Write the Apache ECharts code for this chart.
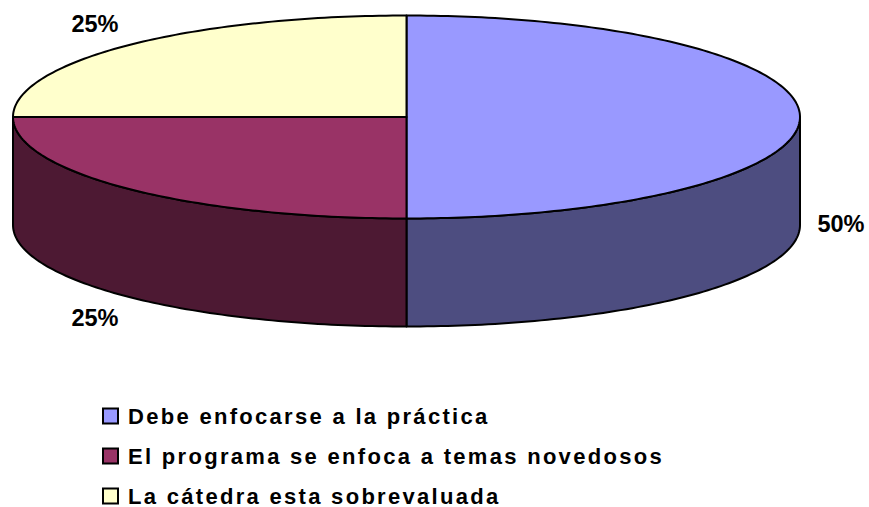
<!DOCTYPE html>
<html>
<head>
<meta charset="utf-8">
<style>
html,body{margin:0;padding:0;background:#fff}
#c{width:869px;height:507px}
</style>
<script src="https://cdn.jsdelivr.net/npm/echarts@6/dist/echarts.min.js"></script>
</head>
<body>
<div id="c"></div>
<script>
const categories = ['Debe enfocarse a la práctica', 'El programa se enfoca a temas novedosos', 'La cátedra esta sobrevaluada'];
const values = [50, 25, 25];
const topColors = ['#9999FF', '#993366', '#FFFFCC'];
const sideColors = ['#4D4D80', '#4D1933', '#80805F'];
const labelPositions = [[841, 224], [95, 318], [95, 24]];

const cx = 406.5, cy = 117, rx = 393.5, ry = 101.5, depth = 108;
const total = values.reduce((a, b) => a + b, 0);
const pt = (deg, dy) => [cx + rx * Math.cos(deg * Math.PI / 180), cy + dy + ry * Math.sin(deg * Math.PI / 180)];

function renderer(i) {
  return function () {
    const before = values.slice(0, i).reduce((a, b) => a + b, 0);
    const a0 = -90 + before / total * 360;
    const a1 = a0 + values[i] / total * 360;
    const children = [];
    const s0 = Math.max(a0, 0), s1 = Math.min(a1, 180);
    if (s1 > s0) {
      const pts = [];
      for (let a = s0; a <= s1; a += 1) pts.push(pt(a, 0));
      for (let a = s1; a >= s0; a -= 1) pts.push(pt(a, depth));
      children.push({ type: 'polygon', z2: 1, shape: { points: pts },
        style: { fill: sideColors[i], stroke: '#000', lineWidth: 2, lineJoin: 'round' } });
    }
    const top = [[cx, cy]];
    for (let a = a0; a <= a1; a += 1) top.push(pt(a, 0));
    children.push({ type: 'polygon', z2: 2, shape: { points: top },
      style: { fill: topColors[i], stroke: '#000', lineWidth: 2, lineJoin: 'round' } });
    children.push({ type: 'text', z2: 3, x: labelPositions[i][0], y: labelPositions[i][1],
      style: { text: Math.round(values[i] / total * 100) + '%', align: 'center', verticalAlign: 'middle',
        fill: '#000', font: 'bold 23.5px "Liberation Sans", Arial, sans-serif' } });
    return { type: 'group', children };
  };
}

const chart = echarts.init(document.getElementById('c'), null, { renderer: 'svg', width: 869, height: 507 });
chart.setOption({
  animation: false,
  backgroundColor: '#fff',
  legend: {
    orient: 'vertical', left: 102, top: 405, height: 120, itemGap: 18, itemWidth: 15, itemHeight: 15,
    icon: 'rect', selectedMode: false, padding: 0,
    itemStyle: { borderColor: '#000', borderWidth: 2 },
    textStyle: { color: '#000', fontWeight: 'bold', fontSize: 22, fontFamily: '"Liberation Sans", Arial, sans-serif', padding: [0, 0, 0, 5] },
    data: categories
  },
  series: categories.map((name, i) => ({
    type: 'custom', name, coordinateSystem: 'none', silent: true,
    itemStyle: { color: topColors[i] },
    renderItem: renderer(i),
    data: [[values[i]]]
  }))
});
// Legend text in the reference is widely tracked
document.querySelectorAll('#c svg text').forEach(t => {
  if (categories.includes(t.textContent)) t.style.letterSpacing = '2.3px';
});
</script>
</body>
</html>
